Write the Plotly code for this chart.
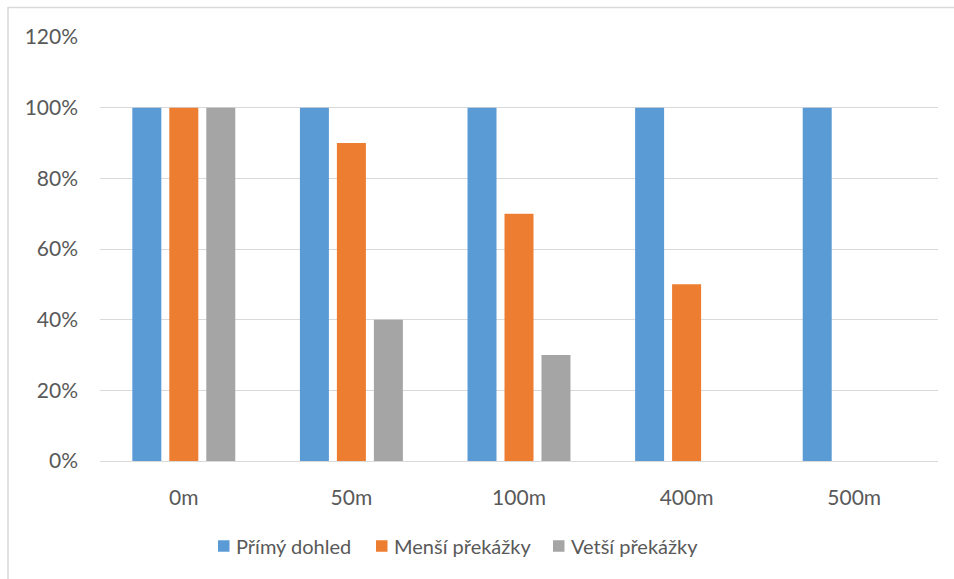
import plotly.graph_objects as go

categories = ["0m", "50m", "100m", "400m", "500m"]
primy = [1.0, 1.0, 1.0, 1.0, 1.0]
mensi = [1.0, 0.9, 0.7, 0.5, 0]
vetsi = [1.0, 0.4, 0.3, 0, 0]
series_names = ["Přímý dohled", "Menší překážky", "Vetší překážky"]
colors = ["#5B9BD5", "#ED7D31", "#A5A5A5"]
y_ticks = [0, 0.2, 0.4, 0.6, 0.8, 1.0, 1.2]

W, H = 954, 579
L, R, T, B = 100, 16, 37, 118
pw, ph = W - L - R, H - T - B

font_family = "Lato, 'Open Sans', sans-serif"
text_col = "#595959"
grid_col = "#D9D9D9"

fig = go.Figure()
for name, vals, col in zip(series_names, [primy, mensi, vetsi], colors):
    fig.add_trace(go.Bar(
        x=categories, y=vals, name=name,
        marker=dict(color=col, line=dict(width=0)),
        showlegend=False,
    ))


def px_to_paper_x(px):
    return (px - L) / pw


def px_to_paper_y(py):
    return (H - B - py) / ph


# chart frame (top and left edges)
fig.add_shape(type="line", xref="paper", yref="paper",
              x0=px_to_paper_x(8), x1=px_to_paper_x(954),
              y0=px_to_paper_y(7.5), y1=px_to_paper_y(7.5),
              line=dict(color=grid_col, width=1.5))
fig.add_shape(type="line", xref="paper", yref="paper",
              x0=px_to_paper_x(8), x1=px_to_paper_x(8),
              y0=px_to_paper_y(7), y1=px_to_paper_y(579),
              line=dict(color=grid_col, width=1.5))

# legend row below the axis
legend_square_x = [218, 376, 553]
legend_y = 546
sq = 11.5
for name, col, sx in zip(series_names, colors, legend_square_x):
    fig.add_shape(type="rect", xref="paper", yref="paper",
                  x0=px_to_paper_x(sx), x1=px_to_paper_x(sx + sq),
                  y0=px_to_paper_y(legend_y - sq / 2), y1=px_to_paper_y(legend_y + sq / 2),
                  fillcolor=col, line=dict(width=0))
    fig.add_annotation(xref="paper", yref="paper",
                       x=px_to_paper_x(sx + sq + 4), y=px_to_paper_y(legend_y),
                       xanchor="left", yanchor="middle", showarrow=False,
                       text=name, font=dict(family=font_family, size=20, color=text_col))

fig.update_layout(
    width=W, height=H,
    margin=dict(l=L, r=R, t=T, b=B),
    paper_bgcolor="white", plot_bgcolor="white",
    barmode="group", bargap=0.338, bargroupgap=0.216,
    font=dict(family=font_family, size=21, color=text_col),
    showlegend=False,
    xaxis=dict(showgrid=False, showline=True, linecolor=grid_col, linewidth=1,
               ticks="", tickfont=dict(size=21, color=text_col), ticklabelstandoff=18),
    yaxis=dict(range=[0, 1.2], tickvals=y_ticks, tickformat=".0%",
               showgrid=True, gridcolor=grid_col, gridwidth=1,
               zeroline=False, showline=False, ticks="",
               tickfont=dict(size=21, color=text_col), ticklabelstandoff=21),
)

fig.write_html("out.html")
